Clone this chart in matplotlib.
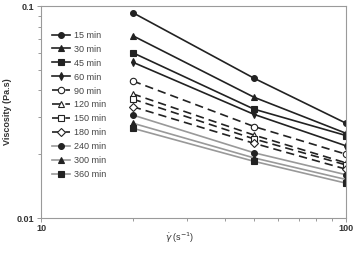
import matplotlib.pyplot as plt

plt.rcParams['font.family'] = ['Liberation Sans', 'DejaVu Sans']

# shear rate (1/s)
shear_rate = [20, 50, 100]
labels = ['15 min', '30 min', '45 min', '60 min', '90 min', '120 min',
          '150 min', '180 min', '240 min', '300 min', '360 min']

# viscosity (Pa.s) read at each shear rate
visc_15 = [0.0930, 0.0456, 0.0280]
visc_30 = [0.0724, 0.0371, 0.0251]
visc_45 = [0.0602, 0.0326, 0.0245]
visc_60 = [0.0543, 0.0308, 0.0219]
visc_90 = [0.0443, 0.0270, 0.0200]
visc_120 = [0.0385, 0.0246, 0.0182]
visc_150 = [0.0364, 0.0236, 0.0178]
visc_180 = [0.0335, 0.0225, 0.0170]
visc_240 = [0.0306, 0.0203, 0.0160]
visc_300 = [0.0280, 0.0192, 0.0152]
visc_360 = [0.0265, 0.0185, 0.0146]

series = [visc_15, visc_30, visc_45, visc_60, visc_90, visc_120,
          visc_150, visc_180, visc_240, visc_300, visc_360]

# style for each curve: marker, size, filled?, line colour, dashed?
styles = [
    ('o', 4.2, True, '#222222', False),
    ('^', 4.2, True, '#222222', False),
    ('s', 4.0, True, '#222222', False),
    ('d', 4.2, True, '#222222', False),
    ('o', 4.6, False, '#222222', True),
    ('^', 4.4, False, '#222222', True),
    ('s', 4.2, False, '#222222', True),
    ('D', 3.6, False, '#222222', True),
    ('o', 4.2, True, '#999999', False),
    ('^', 4.2, True, '#999999', False),
    ('s', 4.0, True, '#999999', False),
]

fig = plt.figure(figsize=(3.54, 2.54), dpi=100)
ax = fig.add_axes([0.1158, 0.1417, 0.8616, 0.8346])

for vals, lab, (mk, ms, filled, col, dashed) in zip(series, labels, styles):
    line, = ax.plot(shear_rate, vals, color=col, lw=1.2, marker=mk, markersize=ms,
                    markerfacecolor='#222222' if filled else 'white',
                    markeredgecolor='#222222', markeredgewidth=0.8, label=lab)
    if dashed:
        line.set_dashes((5, 3))

ax.set_xscale('log')
ax.set_yscale('log')
ax.set_xlim(10, 100)
ax.set_ylim(0.01, 0.1)
ax.set_xticks([10, 100])
ax.set_xticklabels(['10', '100'])
ax.set_yticks([0.01, 0.1])
ax.set_yticklabels(['0.01', '0.1'])

for sp in ax.spines.values():
    sp.set_color('#9a9a9a')
    sp.set_linewidth(0.8)
ax.tick_params(which='both', colors='#9a9a9a', labelcolor='#333333', width=0.7)
ax.tick_params(which='major', length=3, labelsize=6.5)
ax.tick_params(which='minor', length=2)
ax.tick_params(axis='x', pad=1.5)
ax.tick_params(axis='y', pad=2)
for t in ax.get_xticklabels() + ax.get_yticklabels():
    t.set_fontweight('bold')
ax.minorticks_on()
ax.xaxis.set_minor_formatter(plt.NullFormatter())
ax.yaxis.set_minor_formatter(plt.NullFormatter())

ax.set_ylabel('Viscosity (Pa.s)', fontsize=6.5, fontweight='bold', color='#333333')
ax.yaxis.set_label_coords(-0.095, 0.5)
ax.set_xlabel(r'$\dot{\gamma}$ (s$^{-1}$)', fontsize=6.5, color='#333333')
ax.xaxis.set_label_coords(0.455, -0.06)

leg = ax.legend(loc='upper left', bbox_to_anchor=(0.02, 0.905), frameon=False,
                fontsize=6.5, handlelength=2.0, handletextpad=0.5,
                labelspacing=0.55, borderpad=0)
for t in leg.get_texts():
    t.set_color('#444444')

fig.savefig('out.png', dpi=100)
